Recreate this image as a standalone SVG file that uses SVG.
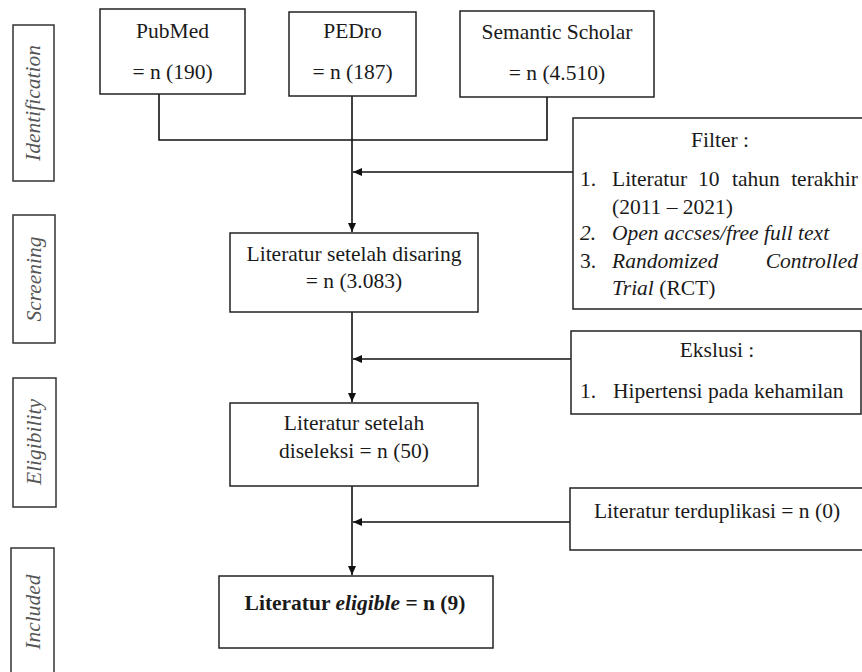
<svg xmlns="http://www.w3.org/2000/svg" width="862" height="672" viewBox="0 0 862 672">
<style>
  .box { fill: #fff; stroke: #222; stroke-width: 1.5; }
  .side { fill: #fff; stroke: #333; stroke-width: 1.5; }
  text { font-family: "Liberation Serif", "Times New Roman", serif; font-size: 21.5px; fill: #1a1a1a; }
  .c { text-anchor: middle; }
  .it { font-style: italic; }
  .lab { font-style: italic; fill: #555; text-anchor: middle; }
  .ln { fill: none; stroke: #111; stroke-width: 1.6; }
</style>
<defs>
  <marker id="ah" markerWidth="10" markerHeight="10" refX="9" refY="5" orient="auto" markerUnits="userSpaceOnUse">
    <path d="M0,1 L9,5 L0,9 Z" fill="#111"/>
  </marker>
</defs>
<rect width="862" height="672" fill="#fff"/>

<g id="phase-identification">
  <rect class="side" x="13" y="25" width="41" height="156"/>
  <text class="lab" transform="translate(40,103) rotate(-90)">Identification</text>
</g>
<g id="phase-screening">
  <rect class="side" x="13" y="215" width="42" height="128"/>
  <text class="lab" transform="translate(41,279) rotate(-90)">Screening</text>
</g>
<g id="phase-eligibility">
  <rect class="side" x="13" y="378" width="43" height="129"/>
  <text class="lab" transform="translate(41,442) rotate(-90)">Eligibility</text>
</g>
<g id="phase-included">
  <rect class="side" x="11" y="548" width="43" height="130"/>
  <text class="lab" transform="translate(40,612) rotate(-90)">Included</text>
</g>

<g id="connectors">
  <polyline class="ln" points="159,94 159,140 547,140 547,97"/>
  <line class="ln" x1="352" y1="96" x2="352" y2="232" marker-end="url(#ah)"/>
  <line class="ln" x1="573" y1="172" x2="353" y2="172" marker-end="url(#ah)"/>
  <line class="ln" x1="352" y1="312" x2="352" y2="402" marker-end="url(#ah)"/>
  <line class="ln" x1="571" y1="359" x2="353" y2="359" marker-end="url(#ah)"/>
  <line class="ln" x1="352" y1="486" x2="352" y2="575" marker-end="url(#ah)"/>
  <line class="ln" x1="570" y1="522" x2="353" y2="522" marker-end="url(#ah)"/>
</g>

<g id="pubmed">
  <rect class="box" x="100" y="9" width="145" height="85"/>
  <text class="c" x="172.5" y="38">PubMed</text>
  <text class="c" x="172.5" y="79">= n (190)</text>
</g>
<g id="pedro">
  <rect class="box" x="289" y="12" width="127" height="84"/>
  <text class="c" x="352.5" y="38">PEDro</text>
  <text class="c" x="352.5" y="79">= n (187)</text>
</g>
<g id="semantic-scholar">
  <rect class="box" x="460" y="11" width="194" height="86"/>
  <text class="c" x="557" y="39">Semantic Scholar</text>
  <text class="c" x="557" y="80">= n (4.510)</text>
</g>

<g id="filter">
  <rect class="box" x="573" y="118" width="300" height="191"/>
  <text class="c" x="720" y="147">Filter :</text>
  <text x="580" y="186">1.</text>
  <text x="612" y="186">Literatur</text>
  <text x="698" y="186">10</text>
  <text x="732" y="186">tahun</text>
  <text x="858" y="186" text-anchor="end">terakhir</text>
  <text x="612" y="214">(2011 – 2021)</text>
  <text class="it" x="580" y="240">2.</text>
  <text class="it" x="612" y="240">Open accses/free full text</text>
  <text x="580" y="268">3.</text>
  <text class="it" x="612" y="268">Randomized</text>
  <text class="it" x="858" y="268" text-anchor="end">Controlled</text>
  <text x="612" y="295"><tspan class="it">Trial</tspan> (RCT)</text>
</g>

<g id="disaring">
  <rect class="box" x="230" y="233" width="248" height="79"/>
  <text class="c" x="354" y="261">Literatur setelah disaring</text>
  <text class="c" x="354" y="288">= n (3.083)</text>
</g>

<g id="ekslusi">
  <rect class="box" x="571" y="331" width="290" height="83"/>
  <text class="c" x="717" y="357">Ekslusi :</text>
  <text x="580" y="398">1.</text>
  <text x="613" y="398">Hipertensi pada kehamilan</text>
</g>

<g id="diseleksi">
  <rect class="box" x="230" y="403" width="248" height="83"/>
  <text class="c" x="354" y="430">Literatur setelah</text>
  <text class="c" x="354" y="458">diseleksi = n (50)</text>
</g>

<g id="terduplikasi">
  <rect class="box" x="570" y="488" width="300" height="62"/>
  <text class="c" x="717" y="518">Literatur terduplikasi = n (0)</text>
</g>

<g id="eligible">
  <rect class="box" x="219" y="576" width="274" height="72"/>
  <text class="c" x="355" y="610" font-weight="bold">Literatur <tspan class="it">eligible</tspan> = n (9)</text>
</g>
</svg>
